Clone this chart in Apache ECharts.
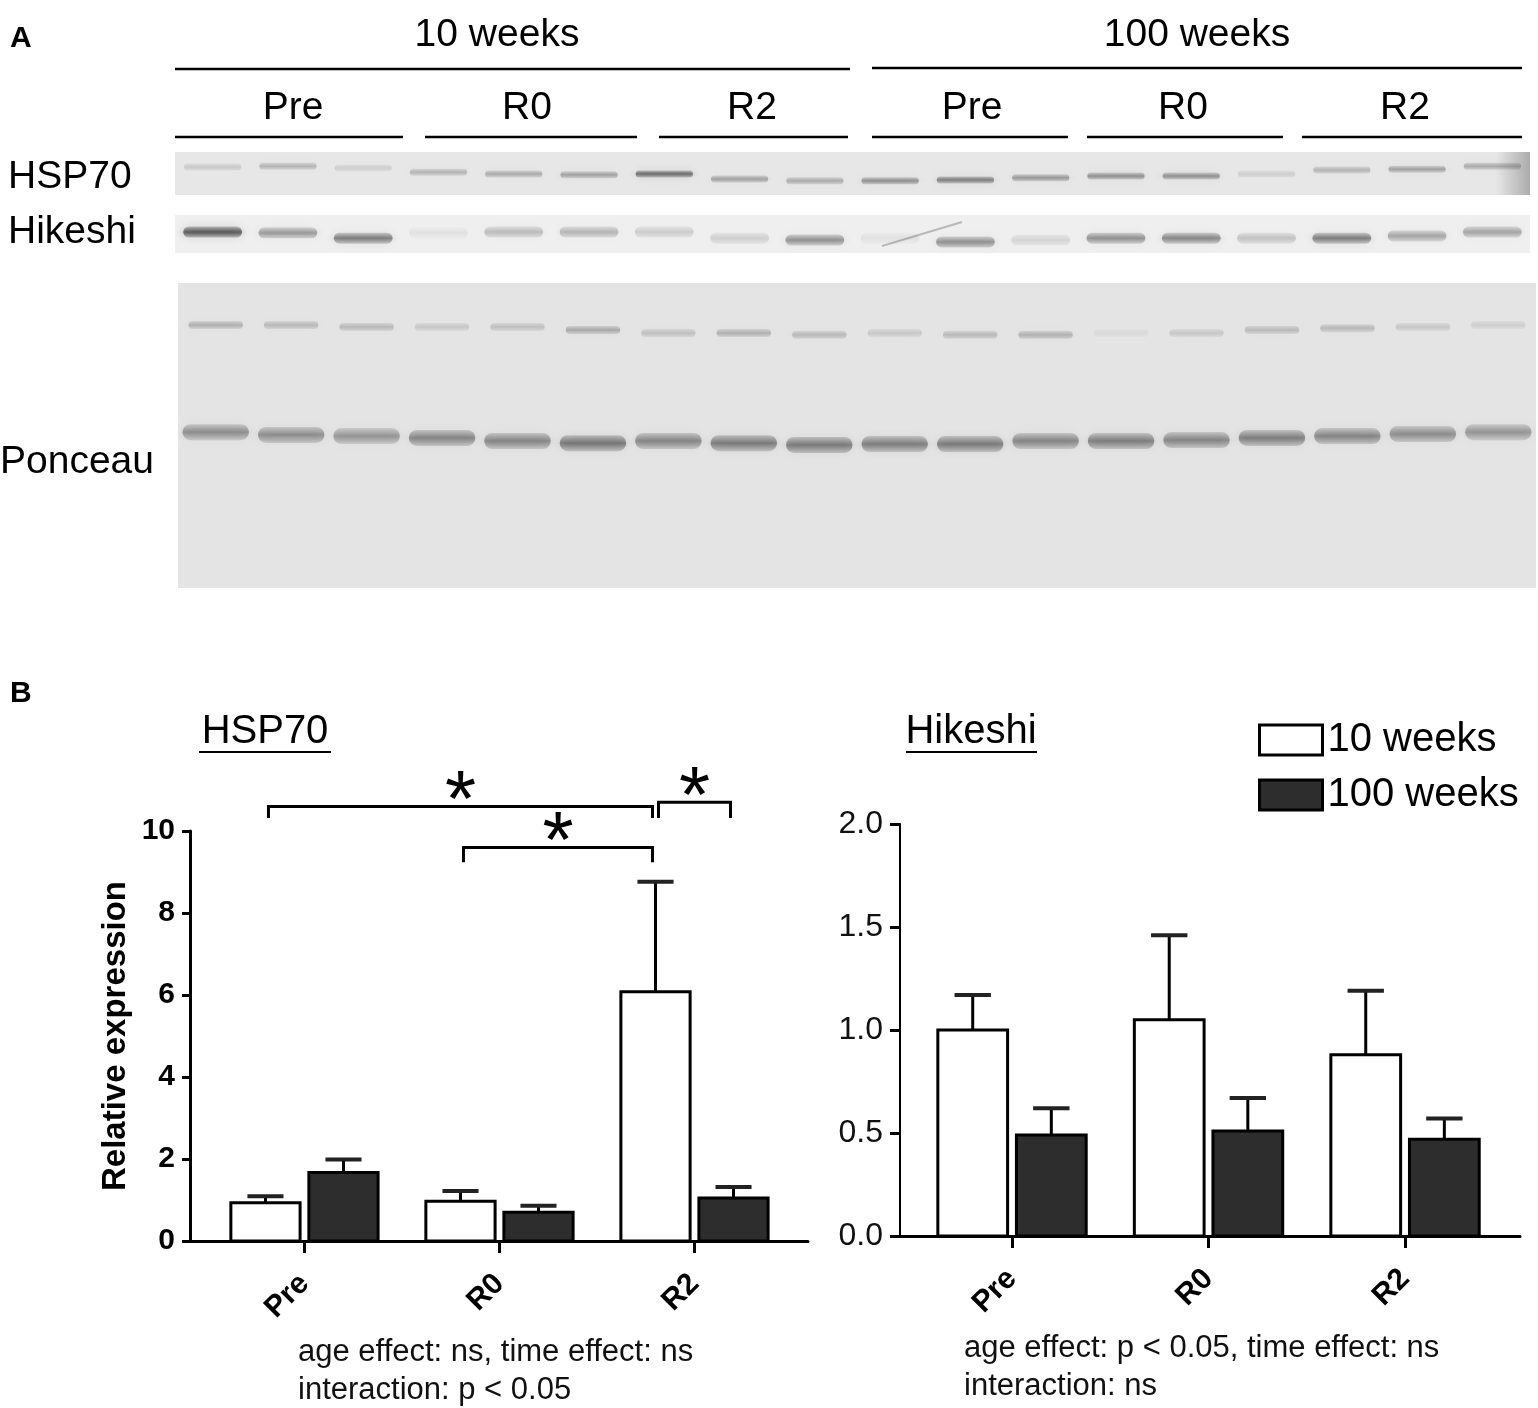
<!DOCTYPE html>
<html>
<head>
<meta charset="utf-8">
<title>HSP70 / Hikeshi</title>
<script src="https://cdn.jsdelivr.net/npm/echarts@6.0.0/dist/echarts.min.js"></script>
<style>
  html, body { margin: 0; padding: 0; background: #fff; }
  #chart { width: 1538px; height: 1408px; }
</style>
</head>
<body>
<div id="chart"></div>
<script>
// ---------- data ----------
var ages = ['10 weeks', '100 weeks'];
var timepoints = ['Pre', 'R0', 'R2'];
var replicates = [1, 2, 3];

// blot band intensity (0..1) and vertical position inside strip (0 = top, 1 = bottom)
var hsp70Band    = [0.18, 0.30, 0.15, 0.30, 0.35, 0.40, 0.70, 0.40, 0.35, 0.50, 0.60, 0.45, 0.50, 0.50, 0.15, 0.30, 0.40, 0.35];
var hsp70BandPos = [0.35, 0.33, 0.37, 0.47, 0.51, 0.53, 0.51, 0.63, 0.67, 0.67, 0.65, 0.60, 0.56, 0.56, 0.51, 0.42, 0.40, 0.33];
var hikeshiBand    = [0.80, 0.45, 0.60, 0.08, 0.28, 0.32, 0.20, 0.18, 0.50, 0.08, 0.50, 0.15, 0.50, 0.55, 0.25, 0.60, 0.40, 0.40];
var hikeshiBandPos = [0.45, 0.47, 0.61, 0.47, 0.45, 0.45, 0.45, 0.61, 0.66, 0.61, 0.71, 0.66, 0.61, 0.61, 0.61, 0.61, 0.55, 0.45];
var ponceauUpper    = [0.35, 0.30, 0.30, 0.20, 0.25, 0.40, 0.25, 0.35, 0.30, 0.20, 0.30, 0.35, 0.08, 0.20, 0.30, 0.30, 0.20, 0.15];
var ponceauUpperPos = [0.138, 0.138, 0.144, 0.144, 0.144, 0.154, 0.164, 0.164, 0.170, 0.164, 0.170, 0.170, 0.164, 0.164, 0.154, 0.148, 0.144, 0.138];
var ponceauLower    = [0.60, 0.60, 0.55, 0.65, 0.65, 0.75, 0.65, 0.72, 0.72, 0.70, 0.72, 0.65, 0.70, 0.65, 0.70, 0.65, 0.60, 0.55];
var ponceauLowerPos = [0.489, 0.498, 0.502, 0.508, 0.518, 0.525, 0.518, 0.525, 0.531, 0.528, 0.528, 0.518, 0.518, 0.515, 0.508, 0.502, 0.495, 0.489];

// relative expression, mean and SEM per timepoint
var hspMean10  = [0.93, 0.97, 6.08];
var hspSem10   = [0.16, 0.25, 2.68];
var hspMean100 = [1.67, 0.70, 1.05];
var hspSem100  = [0.32, 0.16, 0.27];
var hikMean10  = [1.00, 1.05, 0.88];
var hikSem10   = [0.17, 0.41, 0.31];
var hikMean100 = [0.49, 0.51, 0.47];
var hikSem100  = [0.13, 0.16, 0.10];

// significant comparisons: [timeA, ageA, timeB, ageB, bracket level, leg end]
var hspSig = [
  [0, 0, 2, 0, 10.6, 10.32],
  [1, 0, 2, 0, 9.6, 9.24],
  [2, 0, 2, 1, 10.7, 10.32]
];

var lanes = [];
ages.forEach(function (a) {
  timepoints.forEach(function (t) {
    replicates.forEach(function (r) { lanes.push(a + ' ' + t + ' ' + r); });
  });
});

// ---------- drawing helpers ----------
var FONT = 'Liberation Sans, Arial, sans-serif';
var GROUP_OFFSET = [-0.2, 0.2];
var BAR_W = 0.355;
var CAP_W = 0.185;
var FILLS = ['#ffffff', '#2d2d2d'];

// soft blot band: vertical gradient + blur, darkness scaled by `gain`
function bandRenderer(heightPx, widthFrac, gain) {
  return function (params, api) {
    var c = api.coord([api.value(0), api.value(1)]);
    var w = api.size([1, 0])[0] * widthFrac;
    var a = api.value(2) * gain;
    var col = 'rgba(45,45,45,' + a + ')';
    return {
      type: 'rect',
      shape: { x: c[0] - w / 2, y: c[1] - heightPx / 2, width: w, height: heightPx, r: heightPx / 2 },
      style: {
        fill: new echarts.graphic.LinearGradient(0, 0, 0, 1, [
          { offset: 0, color: 'rgba(45,45,45,' + (a * 0.35) + ')' },
          { offset: 0.5, color: col },
          { offset: 1, color: 'rgba(45,45,45,' + (a * 0.35) + ')' }
        ]),
        shadowBlur: 9, shadowColor: 'rgba(45,45,45,' + (a * 0.8) + ')'
      }
    };
  };
}

function barRenderer(group) {
  return function (params, api) {
    var cx = api.value(0) + GROUP_OFFSET[group];
    var mean = api.value(1), sem = api.value(2);
    var tl = api.coord([cx - BAR_W / 2, mean]);
    var br = api.coord([cx + BAR_W / 2, 0]);
    var c = api.coord([cx, mean]);
    var e = api.coord([cx, mean + sem]);
    var capL = api.coord([cx - CAP_W / 2, mean + sem]);
    var capR = api.coord([cx + CAP_W / 2, mean + sem]);
    return {
      type: 'group',
      children: [
        { type: 'line', shape: { x1: c[0], y1: c[1], x2: e[0], y2: e[1] }, style: { stroke: '#000', lineWidth: 3 } },
        { type: 'line', shape: { x1: capL[0], y1: e[1], x2: capR[0], y2: e[1] }, style: { stroke: '#222', lineWidth: 4 } },
        { type: 'rect', shape: { x: tl[0], y: tl[1], width: br[0] - tl[0], height: br[1] - tl[1] },
          style: { fill: FILLS[group], stroke: '#000', lineWidth: 3 } }
      ]
    };
  };
}

function bracketRenderer(params, api) {
  var x1 = api.value(0) + GROUP_OFFSET[api.value(1)];
  var x2 = api.value(2) + GROUP_OFFSET[api.value(3)];
  var p1 = api.coord([x1, api.value(4)]);
  var p2 = api.coord([x2, api.value(4)]);
  var yLeg = api.coord([x1, api.value(5)])[1];
  var a = p1[0] + 3, b = p2[0] - 3;
  return {
    type: 'group',
    children: [
      { type: 'polyline', shape: { points: [[a, yLeg], [a, p1[1]], [b, p1[1]], [b, yLeg]] },
        style: { stroke: '#000', lineWidth: 3, fill: null } },
      { type: 'text', x: (a + b) / 2, y: p1[1] - 2,
        style: { text: '*', fontSize: 80, fontFamily: FONT, fill: '#000', align: 'center', verticalAlign: 'middle' } }
    ]
  };
}

function toItems(means, sems) {
  return means.map(function (m, i) { return [i, m, sems[i]]; });
}
function toBands(levels, pos) {
  return levels.map(function (v, i) { return [i, pos[i], v]; });
}

function blotGrid(left, top, width, height, bg) {
  return { left: left, top: top, width: width, height: height, show: true, backgroundColor: bg, borderWidth: 0, outerBoundsMode: 'none' };
}
function laneAxis(gridIndex) {
  return { type: 'category', gridIndex: gridIndex, data: lanes, show: false, boundaryGap: true };
}
function fracAxis(gridIndex) {
  return { type: 'value', gridIndex: gridIndex, min: 0, max: 1, inverse: true, show: false };
}
function timeAxis(gridIndex, min, max) {
  return {
    type: 'value', gridIndex: gridIndex, min: min, max: max,
    axisLine: { show: true, onZero: false, lineStyle: { color: '#000', width: 3 } },
    axisTick: { show: true, customValues: [0, 1, 2], length: 12, lineStyle: { color: '#000', width: 3 } },
    axisLabel: {
      show: true, customValues: [0, 1, 2], rotate: 45, margin: 38,
      formatter: function (v) { return timepoints[Math.round(v)]; },
      fontFamily: FONT, fontWeight: 'bold', fontSize: 30, color: '#000'
    },
    splitLine: { show: false }
  };
}

var chart = echarts.init(document.getElementById('chart'));

var option = {
  backgroundColor: '#fff',
  animation: false,
  textStyle: { fontFamily: FONT },
  legend: {
    orient: 'vertical', left: 1258, top: 720, padding: 0, itemGap: 15,
    itemWidth: 63, itemHeight: 30, icon: 'rect', selectedMode: false,
    textStyle: { fontSize: 40, fontFamily: FONT, color: '#000' },
    data: [
      { name: ages[0], itemStyle: { color: FILLS[0], borderColor: '#000', borderWidth: 3 } },
      { name: ages[1], itemStyle: { color: FILLS[1], borderColor: '#000', borderWidth: 3 } }
    ]
  },
  grid: [
    blotGrid(175, 152, 1355, 43, '#e7e7e7'),
    blotGrid(175, 215, 1355, 38, '#efefef'),
    blotGrid(178, 283, 1358, 305, '#e4e4e4'),
    { left: 190, top: 831, width: 618, height: 410, outerBoundsMode: 'none' },
    { left: 900, top: 824, width: 620, height: 412, outerBoundsMode: 'none' }
  ],
  xAxis: [
    laneAxis(0), laneAxis(1), laneAxis(2),
    timeAxis(3, -0.587, 2.582),
    timeAxis(4, -0.570, 2.585)
  ],
  yAxis: [
    fracAxis(0), fracAxis(1), fracAxis(2),
    {
      type: 'value', gridIndex: 3, min: 0, max: 10, interval: 2,
      name: 'Relative expression', nameLocation: 'middle', nameGap: 58, nameRotate: 90,
      nameTextStyle: { fontFamily: FONT, fontWeight: 'bold', fontSize: 33, color: '#000' },
      axisLine: { show: true, onZero: false, lineStyle: { color: '#000', width: 3 } },
      axisTick: { show: true, length: 8, lineStyle: { color: '#000', width: 3 } },
      axisLabel: { fontFamily: FONT, fontWeight: 'bold', fontSize: 30, color: '#000', margin: 15 },
      splitLine: { show: false }
    },
    {
      type: 'value', gridIndex: 4, min: 0, max: 2, interval: 0.5,
      axisLine: { show: true, onZero: false, lineStyle: { color: '#000', width: 2 } },
      axisTick: { show: true, length: 10, lineStyle: { color: '#000', width: 3 } },
      axisLabel: { fontFamily: FONT, fontSize: 32, color: '#111', margin: 17,
        formatter: function (v) { return v.toFixed(1); } },
      splitLine: { show: false }
    }
  ],
  series: [
    { type: 'custom', name: 'HSP70 blot', xAxisIndex: 0, yAxisIndex: 0, renderItem: bandRenderer(7, 0.76, 0.85), data: toBands(hsp70Band, hsp70BandPos) },
    { type: 'custom', name: 'Hikeshi blot', xAxisIndex: 1, yAxisIndex: 1, renderItem: bandRenderer(11, 0.78, 0.85), data: toBands(hikeshiBand, hikeshiBandPos) },
    { type: 'custom', name: 'Ponceau upper', xAxisIndex: 2, yAxisIndex: 2, renderItem: bandRenderer(8, 0.72, 0.75), data: toBands(ponceauUpper, ponceauUpperPos) },
    { type: 'custom', name: 'Ponceau lower', xAxisIndex: 2, yAxisIndex: 2, renderItem: bandRenderer(16, 0.88, 0.68), data: toBands(ponceauLower, ponceauLowerPos) },

    { type: 'custom', name: ages[0], xAxisIndex: 3, yAxisIndex: 3, renderItem: barRenderer(0), data: toItems(hspMean10, hspSem10) },
    { type: 'custom', name: ages[1], xAxisIndex: 3, yAxisIndex: 3, renderItem: barRenderer(1), data: toItems(hspMean100, hspSem100) },
    { type: 'custom', name: 'sig', xAxisIndex: 3, yAxisIndex: 3, clip: false, renderItem: bracketRenderer, data: hspSig },

    { type: 'custom', name: ages[0], xAxisIndex: 4, yAxisIndex: 4, renderItem: barRenderer(0), data: toItems(hikMean10, hikSem10) },
    { type: 'custom', name: ages[1], xAxisIndex: 4, yAxisIndex: 4, renderItem: barRenderer(1), data: toItems(hikMean100, hikSem100) }
  ],
  graphic: [
    // panel A labels
    { type: 'text', x: 10, y: 39, style: { text: 'A', fontSize: 30, fontWeight: 'bold', fontFamily: FONT, fill: '#000', verticalAlign: 'middle' } },
    { type: 'text', x: 497, y: 35, style: { text: ages[0], fontSize: 39, fontFamily: FONT, fill: '#000', align: 'center', verticalAlign: 'middle' } },
    { type: 'text', x: 1197, y: 35, style: { text: ages[1], fontSize: 39, fontFamily: FONT, fill: '#000', align: 'center', verticalAlign: 'middle' } },
    { type: 'line', shape: { x1: 175, y1: 69, x2: 850, y2: 69 }, style: { stroke: '#000', lineWidth: 2.5 } },
    { type: 'line', shape: { x1: 872, y1: 68, x2: 1522, y2: 68 }, style: { stroke: '#000', lineWidth: 2.5 } },
    { type: 'text', x: 293, y: 108, style: { text: timepoints[0], fontSize: 39, fontFamily: FONT, fill: '#000', align: 'center', verticalAlign: 'middle' } },
    { type: 'text', x: 527, y: 108, style: { text: timepoints[1], fontSize: 39, fontFamily: FONT, fill: '#000', align: 'center', verticalAlign: 'middle' } },
    { type: 'text', x: 752, y: 108, style: { text: timepoints[2], fontSize: 39, fontFamily: FONT, fill: '#000', align: 'center', verticalAlign: 'middle' } },
    { type: 'text', x: 972, y: 108, style: { text: timepoints[0], fontSize: 39, fontFamily: FONT, fill: '#000', align: 'center', verticalAlign: 'middle' } },
    { type: 'text', x: 1183, y: 108, style: { text: timepoints[1], fontSize: 39, fontFamily: FONT, fill: '#000', align: 'center', verticalAlign: 'middle' } },
    { type: 'text', x: 1405, y: 108, style: { text: timepoints[2], fontSize: 39, fontFamily: FONT, fill: '#000', align: 'center', verticalAlign: 'middle' } },
    { type: 'line', shape: { x1: 175, y1: 137, x2: 403, y2: 137 }, style: { stroke: '#000', lineWidth: 2.5 } },
    { type: 'line', shape: { x1: 425, y1: 137, x2: 637, y2: 137 }, style: { stroke: '#000', lineWidth: 2.5 } },
    { type: 'line', shape: { x1: 659, y1: 137, x2: 848, y2: 137 }, style: { stroke: '#000', lineWidth: 2.5 } },
    { type: 'line', shape: { x1: 872, y1: 137, x2: 1068, y2: 137 }, style: { stroke: '#000', lineWidth: 2.5 } },
    { type: 'line', shape: { x1: 1087, y1: 137, x2: 1283, y2: 137 }, style: { stroke: '#000', lineWidth: 2.5 } },
    { type: 'line', shape: { x1: 1302, y1: 137, x2: 1522, y2: 137 }, style: { stroke: '#000', lineWidth: 2.5 } },
    { type: 'text', x: 8, y: 177, style: { text: 'HSP70', fontSize: 39, fontFamily: FONT, fill: '#000', verticalAlign: 'middle' } },
    { type: 'text', x: 8, y: 232, style: { text: 'Hikeshi', fontSize: 39, fontFamily: FONT, fill: '#000', verticalAlign: 'middle' } },
    { type: 'text', x: 0, y: 462, style: { text: 'Ponceau', fontSize: 39, fontFamily: FONT, fill: '#000', verticalAlign: 'middle' } },
    // membrane artefacts
    { type: 'line', z: 10, shape: { x1: 882, y1: 246, x2: 962, y2: 222 }, style: { stroke: 'rgba(60,60,60,0.3)', lineWidth: 2 } },
    { type: 'rect', z: 10, shape: { x: 1496, y: 152, width: 34, height: 43 },
      style: { fill: new echarts.graphic.LinearGradient(0, 0, 1, 0, [
        { offset: 0, color: 'rgba(60,60,60,0)' }, { offset: 1, color: 'rgba(60,60,60,0.35)' }]) } },

    // panel B labels
    { type: 'text', x: 10, y: 694, style: { text: 'B', fontSize: 30, fontWeight: 'bold', fontFamily: FONT, fill: '#000', verticalAlign: 'middle' } },
    { type: 'text', x: 265, y: 732, style: { text: 'HSP70', fontSize: 40, fontFamily: FONT, fill: '#000', align: 'center', verticalAlign: 'middle' } },
    { type: 'line', shape: { x1: 199, y1: 752, x2: 331, y2: 752 }, style: { stroke: '#000', lineWidth: 2 } },
    { type: 'text', x: 971, y: 732, style: { text: 'Hikeshi', fontSize: 40, fontFamily: FONT, fill: '#000', align: 'center', verticalAlign: 'middle' } },
    { type: 'line', shape: { x1: 906, y1: 752, x2: 1037, y2: 752 }, style: { stroke: '#000', lineWidth: 2 } },
    { type: 'text', x: 298, y: 1352, style: { text: 'age effect: ns, time effect: ns', fontSize: 31, fontFamily: FONT, fill: '#111', verticalAlign: 'middle' } },
    { type: 'text', x: 298, y: 1390, style: { text: 'interaction: p < 0.05', fontSize: 31, fontFamily: FONT, fill: '#111', verticalAlign: 'middle' } },
    { type: 'text', x: 964, y: 1348, style: { text: 'age effect: p < 0.05, time effect: ns', fontSize: 31, fontFamily: FONT, fill: '#111', verticalAlign: 'middle' } },
    { type: 'text', x: 964, y: 1386, style: { text: 'interaction: ns', fontSize: 31, fontFamily: FONT, fill: '#111', verticalAlign: 'middle' } }
  ]
};

chart.setOption(option);
window.onresize = chart.resize;
</script>
</body>
</html>
